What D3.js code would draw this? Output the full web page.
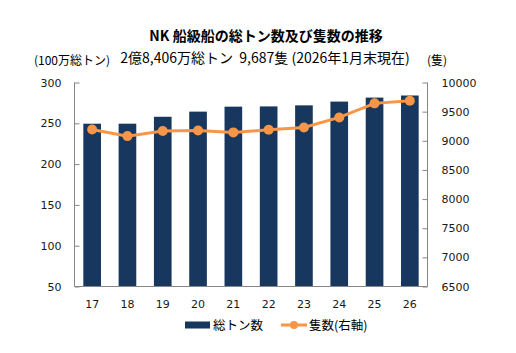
<!DOCTYPE html>
<html><head><meta charset="utf-8">
<script src="https://cdn.jsdelivr.net/npm/d3@7"></script>
<style>body{margin:0;background:#fff}svg{display:block}text{font-family:"Noto Sans CJK JP","Noto Sans",sans-serif;white-space:pre}</style>
</head><body><svg id="c" width="516" height="353"></svg>
<script>
const years = ["17","18","19","20","21","22","23","24","25","26"];
const tonnage = [249.5,249.5,258,264.3,270.4,270.7,272,276.6,281.5,284.06];
const ships = [9195,9080,9169,9178,9144,9188,9229,9401,9642,9687];
const leftTicks = [50,100,150,200,250,300];
const rightTicks = [6500,7000,7500,8000,8500,9000,9500,10000];
const title = "NK 船級船の総トン数及び隻数の推移";
const subtitle = "2億8,406万総トン  9,687隻 (2026年1月末現在)";
const leftUnit = "(100万総トン)";
const rightUnit = "(隻)";
const legendLabels = ["総トン数","隻数(右軸)"];

const svg = d3.select("#c");
const L=74.5, R=427.5, T=82.5, B=286.5;
const x = d3.scaleBand().domain(years).range([L,R]).paddingInner(0.5).paddingOuter(0.25);
const yL = d3.scaleLinear().domain([50,300]).range([B,T]);
const yR = d3.scaleLinear().domain([6500,10000]).range([B,T]);
const barCol="#17375E", lineCol="#F79646", axisCol="#868686", txt="#1a1a1a";

svg.selectAll("rect.bar").data(tonnage).join("rect")
 .attr("x",(d,i)=>x(years[i])).attr("width",x.bandwidth())
 .attr("y",d=>yL(d)).attr("height",d=>B-yL(d)).attr("fill",barCol);

// axes
const gl = svg.append("g").attr("transform",`translate(${L},0)`)
 .call(d3.axisLeft(yL).tickValues(leftTicks).tickSize(-5).tickPadding(13));
const gr = svg.append("g").attr("transform",`translate(${R},0)`)
 .call(d3.axisRight(yR).tickValues(rightTicks).tickFormat(d3.format("d")).tickSize(-5).tickPadding(14));
[gl,gr].forEach(g=>{
 g.select(".domain").remove();
 g.selectAll(".tick line").attr("stroke",axisCol);
 g.selectAll(".tick text").attr("fill",txt).style("font-size","11px").style("font-family","'DejaVu Sans',sans-serif");
});
svg.append("line").attr("x1",L).attr("x2",L).attr("y1",T).attr("y2",B).attr("stroke",axisCol);
svg.append("line").attr("x1",R).attr("x2",R).attr("y1",T).attr("y2",B).attr("stroke",axisCol);
svg.append("line").attr("x1",L).attr("x2",R).attr("y1",B).attr("y2",B).attr("stroke",axisCol);

svg.append("g").selectAll("text").data(years).join("text")
 .attr("x",d=>x(d)+x.bandwidth()/2).attr("y",308).attr("text-anchor","middle")
 .attr("fill",txt).style("font-size","11px").style("font-family","'DejaVu Sans',sans-serif").text(d=>d);

// line
const cx = (i)=>x(years[i])+x.bandwidth()/2;
svg.append("path").datum(ships)
 .attr("d",d3.line().x((d,i)=>cx(i)).y(d=>yR(d)))
 .attr("fill","none").attr("stroke",lineCol).attr("stroke-width",3);
svg.selectAll("circle.pt").data(ships).join("circle")
 .attr("cx",(d,i)=>cx(i)).attr("cy",d=>yR(d)).attr("r",5).attr("fill",lineCol);

// titles
svg.append("text").attr("x",266).attr("y",41).attr("text-anchor","middle")
 .attr("font-weight","bold").style("font-size","14px").attr("fill","#000").text(title);
svg.append("text").attr("x",265).attr("y",63).attr("text-anchor","middle")
 .style("font-size","14px").attr("fill","#000").text(subtitle);
svg.append("text").attr("x",72).attr("y",65).attr("text-anchor","middle")
 .style("font-size","12px").attr("fill","#000").text(leftUnit);
svg.append("text").attr("x",437).attr("y",65).attr("text-anchor","middle")
 .style("font-size","12px").attr("fill","#000").text(rightUnit);

// legend
svg.append("rect").attr("x",185).attr("y",321.5).attr("width",25).attr("height",7).attr("fill",barCol);
svg.append("text").attr("x",213).attr("y",330).style("font-size","12.5px").attr("fill","#000").text(legendLabels[0]);
svg.append("line").attr("x1",281).attr("x2",307).attr("y1",325).attr("y2",325).attr("stroke",lineCol).attr("stroke-width",3);
svg.append("circle").attr("cx",294).attr("cy",325).attr("r",4).attr("fill",lineCol);
svg.append("text").attr("x",309).attr("y",330).style("font-size","12.5px").attr("fill","#000").text(legendLabels[1]);
</script></body></html>
